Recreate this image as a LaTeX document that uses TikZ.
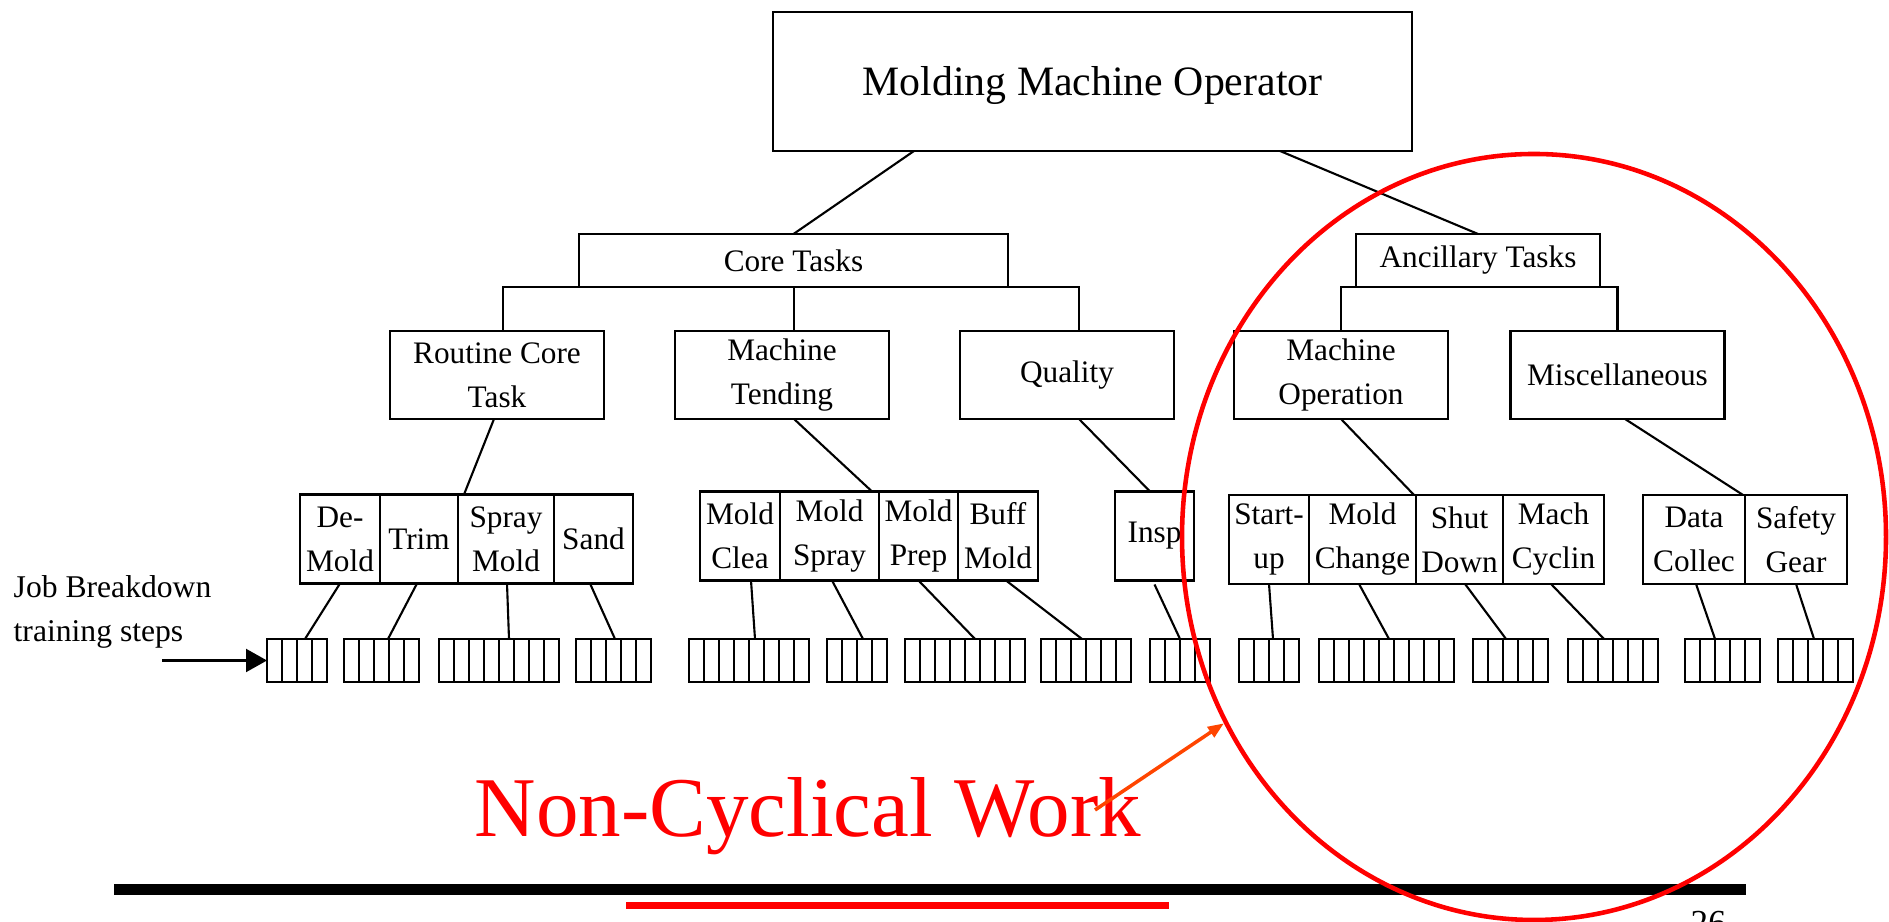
\documentclass[tikz,border=0pt]{standalone}
\usepackage{fontspec}
\setmainfont{Liberation Serif}
\usepackage{tikz}
\usetikzlibrary{arrows.meta, positioning, shapes.geometric}
\definecolor{ncw_red}{RGB}{255, 0, 0}
\definecolor{ncw_orange}{RGB}{255, 69, 0}

\begin{document}
\begin{tikzpicture}[font=\fontsize{8.9}{12.5}\selectfont,
            blk/.style={draw, line width=0.6pt, align=center, inner sep=1pt,
                        outer sep=0pt, minimum width=2.14cm, minimum height=0.88cm},
            tsk/.style={blk, minimum height=0.89cm},
            stp/.style={draw, line width=0.6pt, minimum width=#1*0.15cm,
                        minimum height=0.43cm, inner sep=0pt, outer sep=0pt,
                        anchor=west,
                        path picture={\foreach \k in {1,...,#1}
                          \draw[line width=0.6pt]
                            ([xshift=\k*0.15cm]path picture bounding box.south west) --
                            ([xshift=\k*0.15cm]path picture bounding box.north west);}},
            lnk/.style={line width=0.6pt},
            arr/.style={-{Triangle[length=0.21cm, width=0.23cm]}, line width=0.6pt},
            zone/.style={ellipse, draw=ncw_red, line width=1.3pt, inner sep=0pt,
                         minimum width=7.04cm, minimum height=7.66cm}]
  \useasboundingbox (0,0) rectangle (18.89,9.22);
  \node[blk, minimum width=6.39cm, minimum height=1.39cm, text height=0.37cm,
        text depth=0.09cm, font=\fontsize{11.9}{14}\selectfont] (title)
    at (10.925,8.405) {Molding Machine Operator};
  \node[blk, minimum width=4.29cm, minimum height=0.53cm] (core)
    at (7.935,6.615) {Core Tasks};
  \node[blk, minimum width=2.44cm, minimum height=0.53cm] (ancil)
    at (14.78,6.615) {Ancillary Tasks};

  \node[blk] (routine) at (4.97,5.47) {Routine Core\\Task};
  \node[blk] (tending) at (7.82,5.47) {Machine\\Tending};
  \node[blk] (quality) at (10.67,5.47) {Quality};
  \node[blk] (machop) at (13.41,5.47) {Machine\\Operation};
  \node[blk] (misc) at (16.175,5.47) {Miscellaneous};

  \node[tsk, minimum width=0.80cm] (demold) at (3.40,3.83) {De-\\Mold};
  \node[tsk, minimum width=0.78cm] (trim) at (4.19,3.83) {Trim};
  \node[tsk, minimum width=0.96cm] (spray) at (5.06,3.83) {Spray\\Mold};
  \node[tsk, minimum width=0.79cm] (sand) at (5.935,3.83) {Sand};
  \node[tsk, minimum width=0.80cm] (clean) at (7.40,3.86) {Mold\\Clea};
  \node[tsk, minimum width=0.99cm] (mspray) at (8.295,3.86) {Mold\\Spray};
  \node[tsk, minimum width=0.79cm] (prep) at (9.185,3.86) {Mold\\Prep};
  \node[tsk, minimum width=0.80cm] (buff) at (9.98,3.86) {Buff\\Mold};
  \node[tsk, minimum width=0.79cm] (insp) at (11.545,3.86) {Insp};
  \node[tsk, minimum width=0.80cm] (startup) at (12.69,3.825) {Start-\\up};
  \node[tsk, minimum width=1.07cm] (change) at (13.625,3.825) {Mold\\Change};
  \node[tsk, minimum width=0.87cm] (shutdown) at (14.595,3.825) {Shut\\Down};
  \node[tsk, minimum width=1.01cm] (cycling) at (15.535,3.825) {Mach\\Cyclin};
  \node[tsk, minimum width=1.02cm] (collect) at (16.94,3.825) {Data\\Collec};
  \node[tsk, minimum width=1.02cm] (safety) at (17.96,3.825) {Safety\\Gear};

  \node[stp=4] (demold_st) at (2.67,2.615) {};
  \node[stp=5] (trim_st) at (3.44,2.615) {};
  \node[stp=8] (spray_st) at (4.39,2.615) {};
  \node[stp=5] (sand_st) at (5.76,2.615) {};
  \node[stp=8] (clean_st) at (6.89,2.615) {};
  \node[stp=4] (mspray_st) at (8.27,2.615) {};
  \node[stp=8] (prep_st) at (9.05,2.615) {};
  \node[stp=6] (buff_st) at (10.41,2.615) {};
  \node[stp=4] (insp_st) at (11.50,2.615) {};
  \node[stp=4] (startup_st) at (12.39,2.615) {};
  \node[stp=9] (change_st) at (13.19,2.615) {};
  \node[stp=5] (shutdown_st) at (14.73,2.615) {};
  \node[stp=6] (cycling_st) at (15.68,2.615) {};
  \node[stp=5] (collect_st) at (16.85,2.615) {};
  \node[stp=5] (safety_st) at (17.78,2.615) {};

  \draw[lnk] ([xshift=-1.785cm]title.south) -- (core.north);
  \draw[lnk] ([xshift=1.875cm]title.south) -- (ancil.north);
  \draw[lnk] ([xshift=0.06cm]routine.north) |- ([xshift=0.12cm]quality.north |- core.south)
    -- ([xshift=0.12cm]quality.north);
  \draw[lnk] ([xshift=0.12cm]tending.north) -- ([xshift=0.12cm]tending.north |- core.south);
  \draw[lnk] (machop.north) |- (misc.north |- ancil.south) -- (misc.north);

  \draw[lnk] ([xshift=-0.03cm]routine.south) -- ([xshift=0.06cm]spray.north west);
  \draw[lnk] ([xshift=0.12cm]tending.south) -- ([xshift=-0.07cm]prep.north west);
  \draw[lnk] ([xshift=0.12cm]quality.south) -- ([xshift=-0.045cm]insp.north);
  \draw[lnk] (machop.south) -- ([xshift=-0.02cm]shutdown.north west);
  \draw[lnk] ([xshift=0.075cm]misc.south) -- ([xshift=-0.02cm]safety.north west);

  \draw[lnk] (demold.south) -- ([xshift=0.08cm]demold_st.north);
  \draw[lnk] ([xshift=-0.02cm]trim.south) -- ([xshift=0.065cm]trim_st.north);
  \draw[lnk] ([xshift=0.01cm]spray.south) -- ([xshift=0.10cm]spray_st.north);
  \draw[lnk] ([xshift=-0.035cm]sand.south) -- ([xshift=0.015cm]sand_st.north);
  \draw[lnk] ([xshift=0.11cm]clean.south) -- ([xshift=0.06cm]clean_st.north);
  \draw[lnk] ([xshift=0.025cm]mspray.south) -- ([xshift=0.06cm]mspray_st.north);
  \draw[lnk] (prep.south) -- ([xshift=0.10cm]prep_st.north);
  \draw[lnk] ([xshift=0.08cm]buff.south) -- ([xshift=-0.04cm]buff_st.north);
  \draw[lnk] ([yshift=-0.04cm]insp.south) -- (insp_st.north);
  \draw[lnk] (startup.south) -- ([xshift=0.04cm]startup_st.north);
  \draw[lnk] ([xshift=-0.035cm]change.south) -- ([xshift=0.025cm]change_st.north);
  \draw[lnk] ([xshift=0.055cm]shutdown.south) -- ([xshift=-0.045cm]shutdown_st.north);
  \draw[lnk] ([xshift=-0.025cm]cycling.south) -- ([xshift=-0.09cm]cycling_st.north);
  \draw[lnk] ([xshift=0.02cm]collect.south) -- ([xshift=-0.075cm]collect_st.north);
  \draw[lnk] (safety.south) -- ([xshift=-0.015cm]safety_st.north);

  \node[anchor=west, align=left, inner sep=0pt, font=\fontsize{9}{12.5}\selectfont]
    (jbnote) at (0.13,3.10) {Job Breakdown\\training steps};
  \coordinate (jbtail) at (1.62,2.615);
  \draw[arr] (jbtail) -- (demold_st.west);

  \draw[line width=0.11cm] (1.14,0.325) -- (17.46,0.325);
  \draw[ncw_red, line width=0.07cm] (6.26,0.165) -- (11.69,0.165);
  \node[anchor=base west, inner sep=0pt, text=ncw_red,
        font=\fontsize{24.2}{29}\selectfont] (ncw) at (4.74,0.85) {Non-Cyclical Work};
  \node[anchor=base west, inner sep=0pt, font=\fontsize{10}{12}\selectfont]
    (pagenum) at (16.90,-0.13) {26};
  \node[zone] (zone) at (15.34,3.85) {};
  \coordinate (ncwtail) at (10.95,1.12);
  \draw[ncw_orange, line width=1pt, -{Triangle[length=0.16cm, width=0.12cm]}]
    (ncwtail) -- (zone.211);
\end{tikzpicture}
\end{document}
